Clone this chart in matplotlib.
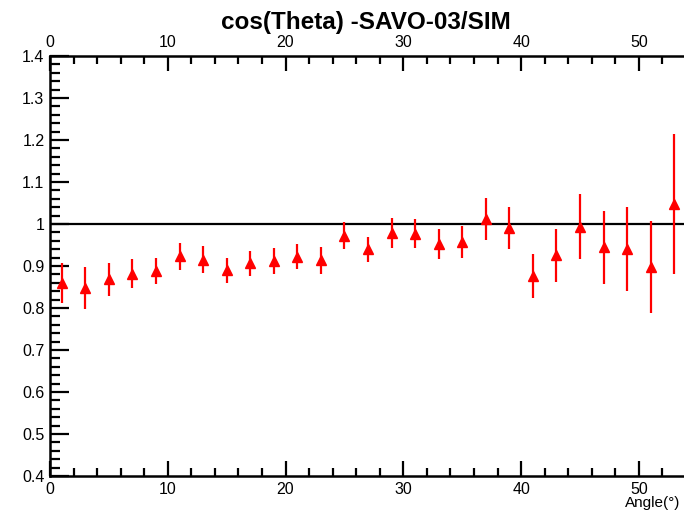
import numpy as np
import matplotlib
matplotlib.use("Agg")
import matplotlib.pyplot as plt
from matplotlib.ticker import MultipleLocator

plt.rcParams['font.family'] = ['Liberation Sans', 'DejaVu Sans']

# angle bin centres and ratio values
angle = [1, 3, 5, 7, 9, 11, 13, 15, 17, 19, 21, 23, 25, 27,
         29, 31, 33, 35, 37, 39, 41, 43, 45, 47, 49, 51, 53]
ratio = [0.860, 0.848, 0.868, 0.882, 0.888, 0.923, 0.915, 0.890, 0.906, 0.912,
         0.922, 0.914, 0.972, 0.940, 0.979, 0.977, 0.953, 0.957, 1.013, 0.990,
         0.876, 0.926, 0.994, 0.945, 0.940, 0.898, 1.047]
err = [0.047, 0.050, 0.040, 0.035, 0.032, 0.032, 0.032, 0.030, 0.030, 0.030,
       0.030, 0.032, 0.032, 0.030, 0.035, 0.035, 0.036, 0.038, 0.050, 0.050,
       0.053, 0.063, 0.077, 0.087, 0.100, 0.110, 0.167]

fig = plt.figure(figsize=(6.84, 5.17), dpi=100)
ax = fig.add_axes([50 / 684, 41 / 517, 636 / 684, 420 / 517])

ax.errorbar(angle, ratio, yerr=err, fmt='^', color='red', ecolor='red',
            markersize=7, elinewidth=1.6, capsize=0, zorder=3)
ax.axhline(1.0, color='black', lw=1.6, zorder=2)

ax.set_xlim(0, 54)
ax.set_ylim(0.4, 1.4)
ax.xaxis.set_major_locator(MultipleLocator(10))
ax.xaxis.set_minor_locator(MultipleLocator(2))
ax.yaxis.set_major_locator(MultipleLocator(0.1))
ax.yaxis.set_minor_locator(MultipleLocator(0.02))
ax.yaxis.set_major_formatter(plt.FuncFormatter(lambda v, p: f"{v:g}"))

ax.tick_params(axis='x', which='both', direction='in', top=True, labeltop=True,
               labelsize=11.5, width=1.6, pad=4)
ax.tick_params(axis='x', which='major', length=11)
ax.tick_params(axis='x', which='minor', length=5.5)
ax.tick_params(axis='y', which='both', direction='in', right=False,
               labelsize=11.5, width=1.6, pad=4)
ax.tick_params(axis='y', which='major', length=13.5)
ax.tick_params(axis='y', which='minor', length=7)

for s in ['left', 'bottom', 'top']:
    ax.spines[s].set_linewidth(1.8)
ax.spines['right'].set_visible(False)

fig.text(366 / 684, 1 - 22 / 517, 'cos(Theta) -SAVO-03/SIM', ha='center',
         va='center', fontsize=17.5, fontweight='bold')
fig.text(680 / 684, 1 - 503 / 517, 'Angle(°)', ha='right', va='center',
         fontsize=11)

fig.savefig('out.png', dpi=100)
